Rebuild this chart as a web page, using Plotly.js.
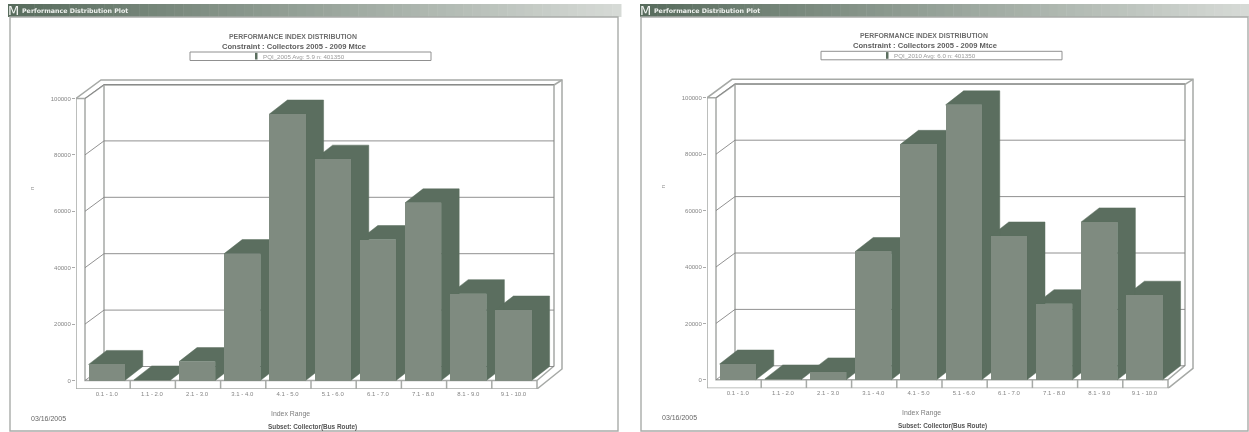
<!DOCTYPE html>
<html><head><meta charset="utf-8">
<script src="https://cdn.plot.ly/plotly-3.0.1.min.js"></script>
<style>html,body{margin:0;padding:0;background:#fff;overflow:hidden}#plot{width:1249px;height:432px;filter:blur(0.6px)}</style>
</head><body><div id="plot"></div>
<script>
const categories = ['0.1 - 1.0','1.1 - 2.0','2.1 - 3.0','3.1 - 4.0','4.1 - 5.0','5.1 - 6.0','6.1 - 7.0','7.1 - 8.0','8.1 - 9.0','9.1 - 10.0'];
const values2005 = [5700,200,6700,45000,94500,78500,50000,63000,30800,25000];
const values2010 = [5600,300,2800,45500,83500,97500,51000,27000,56000,30000];
const yTicks = [0,20000,40000,60000,80000,100000];
const legend2005 = 'PQI_2005 Avg: 5.9 n: 401350';
const legend2010 = 'PQI_2010 Avg: 6.0 n: 401350';
const chartTitle = 'PERFORMANCE INDEX DISTRIBUTION';
const chartSubtitle = 'Constraint : Collectors 2005 - 2009 Mtce';
const windowTitle = 'Performance Distribution Plot';
const xTitle = 'Index Range', yTitle = 'n', dateText = '03/16/2005', subsetText = 'Subset: Collector(Bus Route)';

const W=1249,H=432, PXU=45.2, PYU=282/100000;
const FRONT='#7f8b80', DARK='#5b6e5f', FRAME='#a6a9a6', GRID='#858585', TXT='#858585';
const BW=0.8, BAR_START=0.08, DX=18/PXU, DY=14/PYU;
const px=x=>x/W, py=y=>1-y/H;
const traces=[], shapes=[], annotations=[];
const layout={width:W,height:H,margin:{l:0,r:0,t:0,b:0},paper_bgcolor:'#fff',plot_bgcolor:'rgba(0,0,0,0)',showlegend:false,bargap:0,shapes,annotations};

function text(x,y,t,size,color,extra){
  annotations.push(Object.assign({xref:'paper',yref:'paper',x:px(x),y:py(y),text:t,showarrow:false,xanchor:'center',yanchor:'middle',
    font:{family:'"Liberation Sans",Arial,sans-serif',size,color},borderpad:0},extra||{}));
}
function rect(x0,y0,x1,y1,fill,line,lw){
  shapes.push({type:'rect',xref:'paper',yref:'paper',layer:'below',x0:px(x0),x1:px(x1),y0:py(y0),y1:py(y1),fillcolor:fill,line:{color:line||fill,width:line?(lw||1):0}});
}

function panel(idx,vals,ox,oy,win,legText){
  const n=idx*2-1;
  const xa=n===1?'x':'x'+n, ya=n===1?'y':'y'+n;
  const xo='x'+(n+1), yo='y'+(n+1);
  const X=p=>(p-85)/PXU, Y=p=>(380.5-p)/PYU;
  const L=76+ox,R=566+ox,T=72+oy,B=389+oy;
  const xr=[X(76),X(566)], yr=[Y(389),Y(72)];
  const xn=n===1?'xaxis':'xaxis'+n, yn=n===1?'yaxis':'yaxis'+n;
  layout[xn]={domain:[px(L),px(R)],range:xr,anchor:ya,showgrid:false,zeroline:false,showline:false,ticks:'',tickmode:'array',
    tickvals:categories.map((c,i)=>i+0.48),ticktext:categories,tickangle:0,tickfont:{family:'"Liberation Sans",Arial,sans-serif',size:6,color:TXT}};
  layout[yn]={domain:[py(B),py(T)],range:yr,anchor:xa,showgrid:false,zeroline:false,showline:false,ticks:'outside',ticklen:3,tickcolor:'#aaa',tickwidth:1,
    tickmode:'array',tickvals:yTicks,ticktext:yTicks.map(String),tickfont:{family:'"Liberation Sans",Arial,sans-serif',size:6,color:TXT}};
  layout['xaxis'+(n+1)]={overlaying:xa,range:xr,anchor:yo,visible:false};
  layout['yaxis'+(n+1)]={overlaying:ya,range:yr,anchor:xo,visible:false};

  const seg=[
    [[76,98.5],[76,389],[537,389],[537,380.5],[85,380.5],[85,98.5],[76,98.5]],
    [[76,98.5],[101,80],[562,80],[562,369],[537,389]],
    [[85,98.5],[104,85],[554,85],[554,366],[537,380.5]],
    [[104,85],[104,366]],
    [[554,85],[562,80]]
  ];
  for(let i=1;i<10;i++){const s=85+i*PXU; seg.push([[s,380.5],[s,389]]);}
  const fx=[],fy=[];
  seg.forEach(s=>{s.forEach(p=>{fx.push(X(p[0]));fy.push(Y(p[1]));});fx.push(null);fy.push(null);});
  traces.push({type:'scatter',mode:'lines',x:fx,y:fy,xaxis:xa,yaxis:ya,line:{color:FRAME,width:1.5},hoverinfo:'skip'});

  const gx=[],gy=[];
  yTicks.forEach(v=>{gx.push(0,19/PXU,(554-85)/PXU,null);gy.push(v,v+DY,v+DY,null);});
  traces.push({type:'scatter',mode:'lines',x:gx,y:gy,xaxis:xa,yaxis:ya,line:{color:GRID,width:0.9},hoverinfo:'skip'});

  const px_=[],py_=[];
  vals.forEach((v,i)=>{
    const a=i+BAR_START,b=a+BW;
    px_.push(a,a+DX,b+DX,b+DX,b,b,a,null);
    py_.push(v,v+DY,v+DY,DY,0,v,v,null);
  });
  traces.push({type:'scatter',mode:'lines',x:px_,y:py_,xaxis:xa,yaxis:ya,fill:'toself',fillcolor:DARK,line:{color:DARK,width:0.5},hoverinfo:'skip'});

  traces.push({type:'bar',x:categories.map((c,i)=>i+BAR_START+BW/2),y:vals,width:BW,xaxis:xo,yaxis:yo,marker:{color:FRONT,line:{width:0}},hoverinfo:'x+y'});

  const steps=70, a=[88,108,93], b=[214,218,214];
  for(let i=0;i<steps;i++){
    const t=i/(steps-1);
    const c='rgb('+a.map((v,k)=>Math.round(v+(b[k]-v)*t)).join(',')+')';
    rect(win[0]+(win[1]-win[0])*i/steps,4,win[0]+(win[1]-win[0])*(i+1)/steps+0.5,17,c);
  }
  rect(win[2],17,win[3],431,'#fff','#a9aca9',1.4);
  text(win[0]+5.5,10.5,'M',13,'#fff',{font:{family:'"DejaVu Sans",sans-serif',size:13,color:'#f4f6f4'}});
  text(win[0]+12.5,10.5,'<b>'+windowTitle+'</b>',6.3,'#f2f4f2',{xanchor:'left',font:{family:'"DejaVu Sans",sans-serif',size:6.3,color:'#eef1ee'}});
  text(293+ox,36.5+oy,'<b>'+chartTitle+'</b>',6.9,'#6d6d6d');
  text(294+ox,46+oy,'<b>'+chartSubtitle+'</b>',7.6,'#5f5f5f');
  rect(190+ox,52+oy,431+ox,60.5+oy,'#fff','#909090',1);
  rect(255+ox,52.8+oy,257.5+ox,59.5+oy,DARK);
  text(262+ox,56.3+oy,legText,6.2,'#9a9a9a',{xanchor:'left'});
  text(32+ox,188+oy,yTitle,6,'#8a8a8a',{textangle:-90});
  text(290+ox,414+oy,xTitle,6.9,'#7d7d7d');
  text(48.5+ox,418.5+oy,dateText,7,'#666');
  text(312+ox,427+oy,'<b>'+subsetText+'</b>',6.4,'#555');
}
panel(1,values2005,0,0,[8,621,10,618],legend2005);
panel(2,values2010,631,-0.7,[640,1249,641,1248],legend2010);
Plotly.newPlot('plot',traces,layout,{displayModeBar:false,staticPlot:true});
</script></body></html>
